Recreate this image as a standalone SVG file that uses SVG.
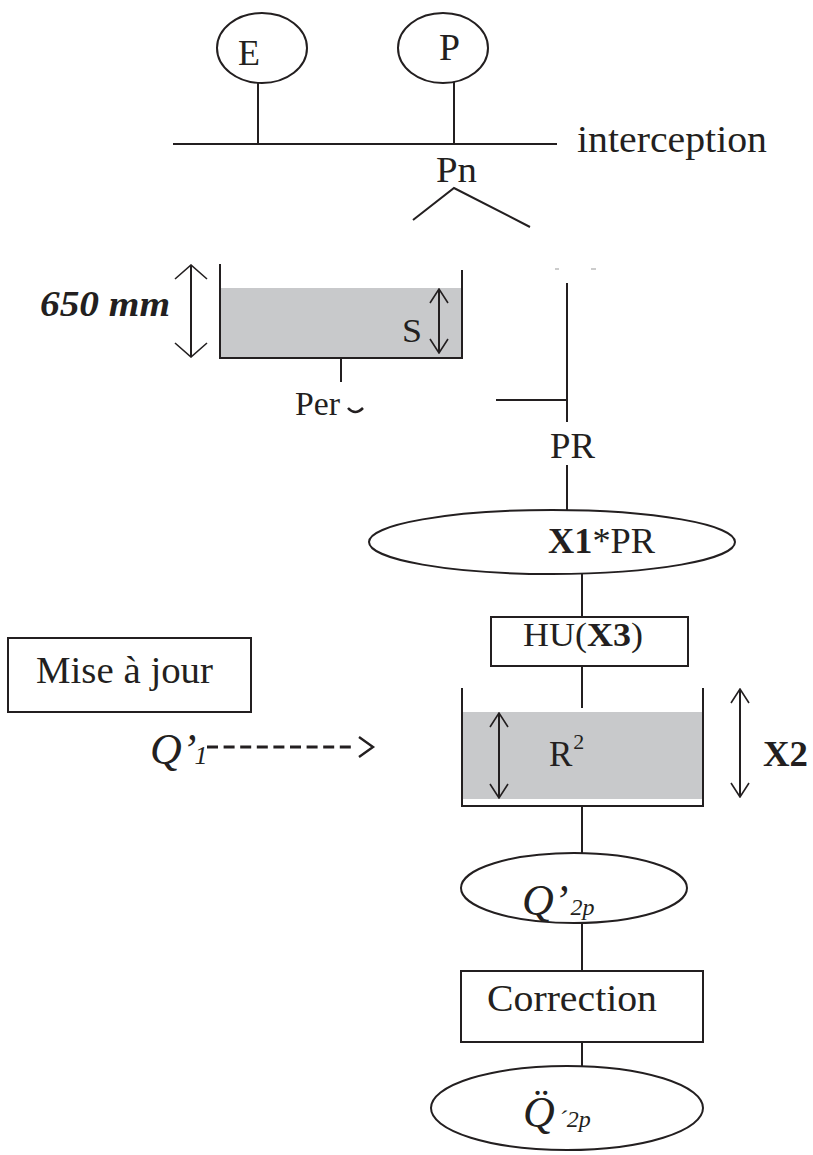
<svg xmlns="http://www.w3.org/2000/svg" width="813" height="1155" viewBox="0 0 813 1155" font-family="'Liberation Serif', 'Times New Roman', Times, serif">
<defs>
<style>
.ln{stroke:#231f20;stroke-width:2;fill:none}
.nd{stroke:#231f20;stroke-width:2;fill:#fff}
.wt{fill:#c8c9cb}
text{font-family:'Liberation Serif','Times New Roman',Times,serif;fill:#231f20}
.b{font-weight:bold}
.i{font-style:italic}
</style>
<marker id="ds" viewBox="0 0 16 20" refX="15" refY="10" markerWidth="16" markerHeight="20" markerUnits="userSpaceOnUse" orient="auto-start-reverse">
<path d="M1,1 L15,10 L1,19" fill="none" stroke="#231f20" stroke-width="1.6"/>
</marker>
<marker id="dl" viewBox="0 0 16 34" refX="15" refY="17" markerWidth="16" markerHeight="34" markerUnits="userSpaceOnUse" orient="auto-start-reverse">
<path d="M1,1 L15,17 L1,33" fill="none" stroke="#231f20" stroke-width="1.6"/>
</marker>
</defs>
<rect width="813" height="1155" fill="#fff"/>

<g id="connectors">
<line class="ln" x1="258" y1="79" x2="258" y2="144"/>
<line class="ln" x1="454" y1="79" x2="454" y2="144"/>
<line class="ln" x1="173" y1="144" x2="557" y2="144"/>
<polyline class="ln" points="413,220 454,188 530,227"/>
<line class="ln" x1="341" y1="358" x2="341" y2="382"/>
<line class="ln" x1="496" y1="400" x2="568" y2="400"/>
<line class="ln" x1="567" y1="283" x2="567" y2="422"/>
<line x1="555" y1="269" x2="559" y2="269" stroke="#999" stroke-width="1"/>
<line x1="591" y1="269" x2="596" y2="269" stroke="#999" stroke-width="1"/>
<line class="ln" x1="567" y1="465" x2="567" y2="510"/>
<line class="ln" x1="582" y1="570" x2="582" y2="617"/>
<line class="ln" x1="582" y1="666" x2="582" y2="708"/>
<line class="ln" x1="582" y1="806" x2="582" y2="853"/>
<line class="ln" x1="582" y1="923" x2="582" y2="971"/>
<line class="ln" x1="582" y1="1042" x2="582" y2="1066"/>
<line x1="207" y1="747" x2="356" y2="747" stroke="#231f20" stroke-width="3" stroke-dasharray="11,5.6"/>
<polyline points="359,737 373,747 359,757" fill="none" stroke="#231f20" stroke-width="2.4"/>
</g>

<g id="node-E">
<ellipse class="nd" cx="262" cy="48" rx="45" ry="35"/>
<text x="238" y="65" font-size="36" textLength="22" lengthAdjust="spacingAndGlyphs">E</text>
</g>
<g id="node-P">
<ellipse class="nd" cx="443" cy="48" rx="45" ry="35"/>
<text x="439" y="60" font-size="37" textLength="21" lengthAdjust="spacingAndGlyphs">P</text>
</g>
<g id="label-interception">
<text x="577" y="152" font-size="38" textLength="190" lengthAdjust="spacingAndGlyphs">interception</text>
</g>
<g id="label-Pn">
<text x="436" y="182" font-size="36" textLength="41" lengthAdjust="spacingAndGlyphs">Pn</text>
</g>

<g id="reservoir-S">
<rect class="wt" x="220" y="288" width="242" height="70"/>
<polyline class="ln" points="220,264 220,358 462,358 462,270"/>
<line class="ln" x1="439" y1="289" x2="439" y2="353" marker-start="url(#ds)" marker-end="url(#ds)"/>
<text x="402" y="342" font-size="34" textLength="20" lengthAdjust="spacingAndGlyphs">S</text>
<line class="ln" x1="191" y1="265" x2="191" y2="357" marker-start="url(#dl)" marker-end="url(#dl)"/>
<text class="b i" x="40" y="316" font-size="36" textLength="130" lengthAdjust="spacingAndGlyphs">650 mm</text>
</g>
<g id="label-Per">
<text x="295" y="415" font-size="34" textLength="45" lengthAdjust="spacingAndGlyphs">Per</text>
<path d="M348,408 Q355,416 363,408" fill="none" stroke="#231f20" stroke-width="2.5"/>
</g>
<g id="label-PR">
<text x="550" y="458" font-size="35" textLength="45" lengthAdjust="spacingAndGlyphs">PR</text>
</g>

<g id="node-X1PR">
<ellipse class="nd" cx="552" cy="542" rx="183" ry="32"/>
<text x="548" y="553" font-size="35" textLength="107" lengthAdjust="spacingAndGlyphs"><tspan class="b">X1</tspan>*PR</text>
</g>
<g id="node-HU">
<rect class="nd" x="491" y="617" width="197" height="49"/>
<text x="523" y="646" font-size="34" textLength="120" lengthAdjust="spacingAndGlyphs">HU(<tspan class="b">X3</tspan>)</text>
</g>

<g id="node-mise">
<rect class="nd" x="8" y="638" width="243" height="74"/>
<text x="36" y="683" font-size="37" textLength="177" lengthAdjust="spacingAndGlyphs">Mise à jour</text>
</g>
<g id="label-Q1">
<text class="i" x="150" y="764" font-size="44">Q’<tspan font-size="26" dx="-2">1</tspan></text>
</g>

<g id="reservoir-R">
<rect class="wt" x="462" y="712" width="241" height="87"/>
<polyline class="ln" points="462,688 462,806 703,806 703,688"/>
<line class="ln" x1="499" y1="713" x2="499" y2="798" marker-start="url(#ds)" marker-end="url(#ds)"/>
<text x="549" y="766" font-size="35">R<tspan font-size="22" dy="-17" dx="1">2</tspan></text>
<line class="ln" x1="740" y1="689" x2="740" y2="797" marker-start="url(#ds)" marker-end="url(#ds)"/>
<text class="b" x="763" y="766" font-size="35" textLength="45" lengthAdjust="spacingAndGlyphs">X2</text>
</g>

<g id="node-Q2p">
<ellipse class="nd" cx="574" cy="888" rx="113" ry="35"/>
<text class="i" x="522" y="915" font-size="44">Q’<tspan font-size="24" dx="2">2p</tspan></text>
</g>
<g id="node-correction">
<rect class="nd" x="461" y="971" width="242" height="71"/>
<text x="487" y="1011" font-size="37" textLength="170" lengthAdjust="spacingAndGlyphs">Correction</text>
</g>
<g id="node-Q2p-corr">
<ellipse class="nd" cx="567" cy="1108" rx="136" ry="42"/>
<text class="i" x="523" y="1127" font-size="44">Q̈<tspan font-size="24" dx="4">´2p</tspan></text>
</g>
</svg>
